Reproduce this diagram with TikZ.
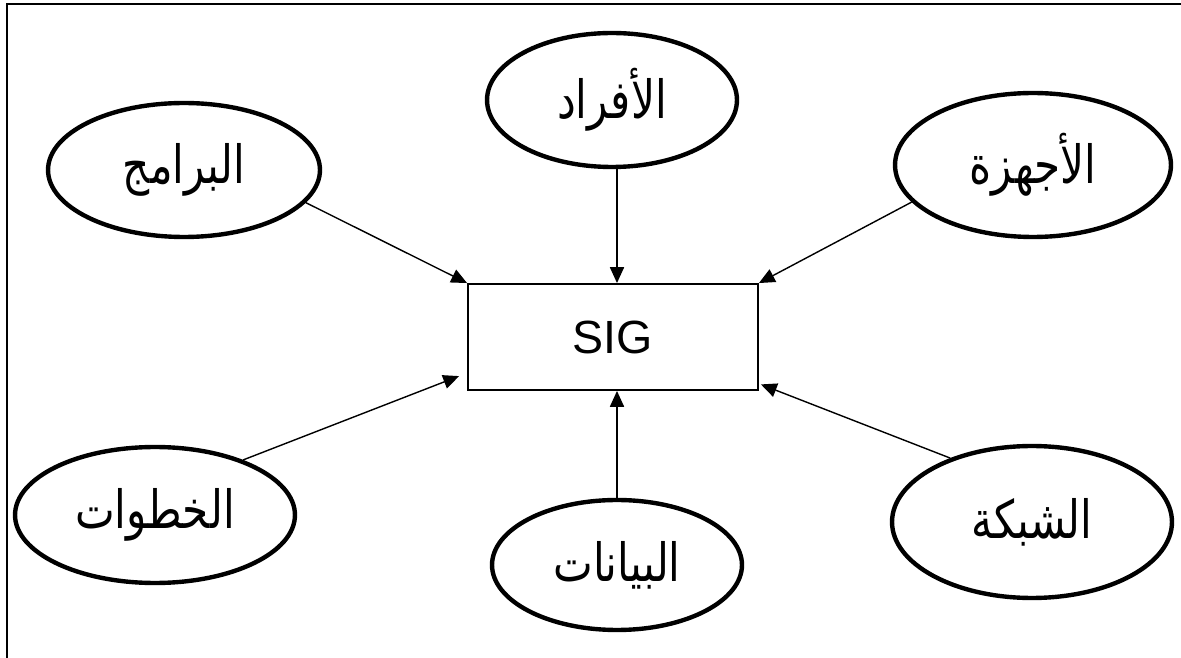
\documentclass[tikz,border=0pt]{standalone}
\usepackage{fontspec}
\setmainfont{Liberation Sans}
\newfontfamily\arabicfont[Script=Arabic,FakeStretch=0.8]{DejaVu Sans}
\TeXXeTstate=1
\usetikzlibrary{arrows.meta}
\usetikzlibrary{shapes.geometric,calc}

\begin{document}
\begin{tikzpicture}[x=0.02cm, y=-0.02cm,
        part/.style={ellipse, draw, line width=2.5pt, inner sep=0pt, font=\arabicfont\fontsize{30}{34}\selectfont},
        core/.style={rectangle, draw, line width=1.1pt, minimum width=5.8cm, minimum height=2.12cm, font=\fontsize{26.5}{30}\selectfont},
        link/.style={line width=0.8pt}, >={Triangle[length=9pt,width=8pt]}]

        \useasboundingbox (0,0) rectangle (1181,658);
        \draw[line width=1.1pt] (1181,4) -- (7,4) -- (7,658);

        \node[core] (sig) at (613,337) {SIG};

        \node[part, minimum width=5.0cm, minimum height=2.68cm] (afrad) at (612,100) {\beginR الأفراد\endR};
        \node[part, minimum width=5.44cm, minimum height=2.68cm] (baramij) at (184,170) {\beginR البرامج\endR};
        \node[part, minimum width=5.52cm, minimum height=2.88cm] (ajhiza) at (1033,165) {\beginR الأجهزة\endR};
        \node[part, minimum width=5.6cm, minimum height=2.72cm] (khutuwat) at (155,515) {\beginR الخطوات\endR};
        \node[part, minimum width=5.6cm, minimum height=3.04cm] (shabaka) at (1032,522) {\beginR الشبكة\endR};
        \node[part, minimum width=5.0cm, minimum height=2.6cm] (bayanat) at (617,565) {\beginR البيانات\endR};

        \draw[link, ->] (afrad.south -| 617,0) -- (sig.north -| 617,0);
        \draw[link, ->] (bayanat.north -| 617,0) -- (sig.south -| 617,0);
        \draw[link, ->] (baramij.-15) -- (sig.north west);
        \draw[link, ->] (ajhiza.197) -- (sig.north east);
        \draw[link, ->] (khutuwat.32) -- ($(sig.195)+(-8,0)$);
        \draw[link, ->] (shabaka.142) -- ($(sig.-18)+(2,0)$);

    \end{tikzpicture}
\end{document}
